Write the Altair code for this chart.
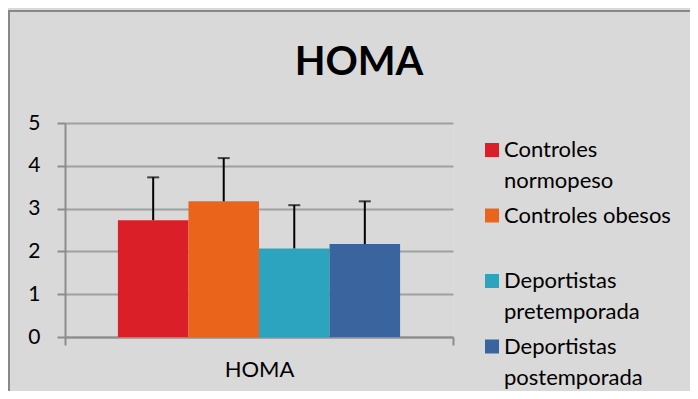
import altair as alt
import pandas as pd

# ---- data ----
categoria = "HOMA"
grupos = ["Controles normopeso", "Controles obesos",
          "Deportistas pretemporada", "Deportistas postemporada"]
medias = [2.73, 3.17, 2.07, 2.17]
desv = [1.00, 1.01, 1.01, 1.00]
colores = ["#DA1F28", "#EB641B", "#2CA3BF", "#39649E"]
y_ticks = [0, 1, 2, 3, 4, 5]

df = pd.DataFrame({"cat": categoria, "grupo": grupos, "media": medias, "sd": desv})
df["sup"] = df["media"] + df["sd"]

FONT = "Lato"
GRAY = "#8C8C8C"

x_enc = alt.X("cat:N", title=None,
              scale=alt.Scale(paddingInner=0, paddingOuter=0),
              axis=alt.Axis(labelAngle=0, tickBand="extent", tickSize=8,
                            tickColor=GRAY, tickWidth=2, domainColor=GRAY,
                            domainWidth=2, labelFont=FONT, labelFontSize=22,
                            labelColor="black", labelPadding=14, grid=False))
xo_enc = alt.XOffset("grupo:N", sort=grupos,
                     scale=alt.Scale(domain=grupos, paddingInner=0, paddingOuter=0.75))
y_enc = alt.Y("media:Q", title=None,
              scale=alt.Scale(domain=[0, 5], nice=False),
              axis=alt.Axis(values=y_ticks, tickSize=8, tickColor=GRAY, tickWidth=2,
                            domainColor=GRAY, domainWidth=2, gridColor="#A0A0A0",
                            gridWidth=2, labelFont=FONT, labelFontSize=21,
                            labelColor="black", labelPadding=17))

color_enc = alt.Color(
    "grupo:N", sort=grupos,
    scale=alt.Scale(domain=grupos, range=colores),
    legend=alt.Legend(title=None, orient="none", legendX=416, legendY=16,
                      padding=0, rowPadding=12.5, labelFont=FONT, labelFontSize=22,
                      labelColor="black", labelLimit=400, labelOffset=1,
                      symbolType="square", symbolSize=196, symbolStrokeWidth=0,
                      symbolOpacity=1,
                      labelExpr="datum.label == 'Controles obesos' ? ['Controles obesos', ''] : split(datum.label, ' ')"))

bars = alt.Chart(df).mark_bar(opacity=1).encode(
    x=x_enc, xOffset=xo_enc, y=y_enc, color=color_enc)

err = alt.Chart(df).mark_rule(color="black", strokeWidth=2).encode(
    x=alt.X("cat:N"), xOffset=alt.XOffset("grupo:N", sort=grupos),
    y="media:Q", y2="sup:Q")

caps = alt.Chart(df).mark_tick(color="black", thickness=2, size=12, orient="horizontal").encode(
    x=alt.X("cat:N"), xOffset=alt.XOffset("grupo:N", sort=grupos),
    y="sup:Q")

frame_df = pd.DataFrame({"f": [1]})
frame = alt.Chart(frame_df).mark_rect(fill="transparent", stroke="#888888", strokeWidth=2).encode(
    x=alt.value(-56), x2=alt.value(700), y=alt.value(-112), y2=alt.value(400))

chart = alt.layer(frame, bars, err, caps).properties(
    width=388, height=214,
    title=alt.TitleParams("HOMA", font=FONT, fontSize=40, fontWeight="bold",
                          color="black", anchor="middle", dx=100, offset=0, dy=105,
                          frame="group", baseline="alphabetic"),
    background="#D9D9D9",
    padding={"left": 57, "top": 115, "right": 237, "bottom": 54},
    autosize=alt.AutoSizeParams(type="none"),
).configure_view(stroke=None, fill="white").configure(
    style={"guide-label": {"lineHeight": 31}}
)

chart.save("out.html", embed_options={"renderer": "svg", "actions": False})
